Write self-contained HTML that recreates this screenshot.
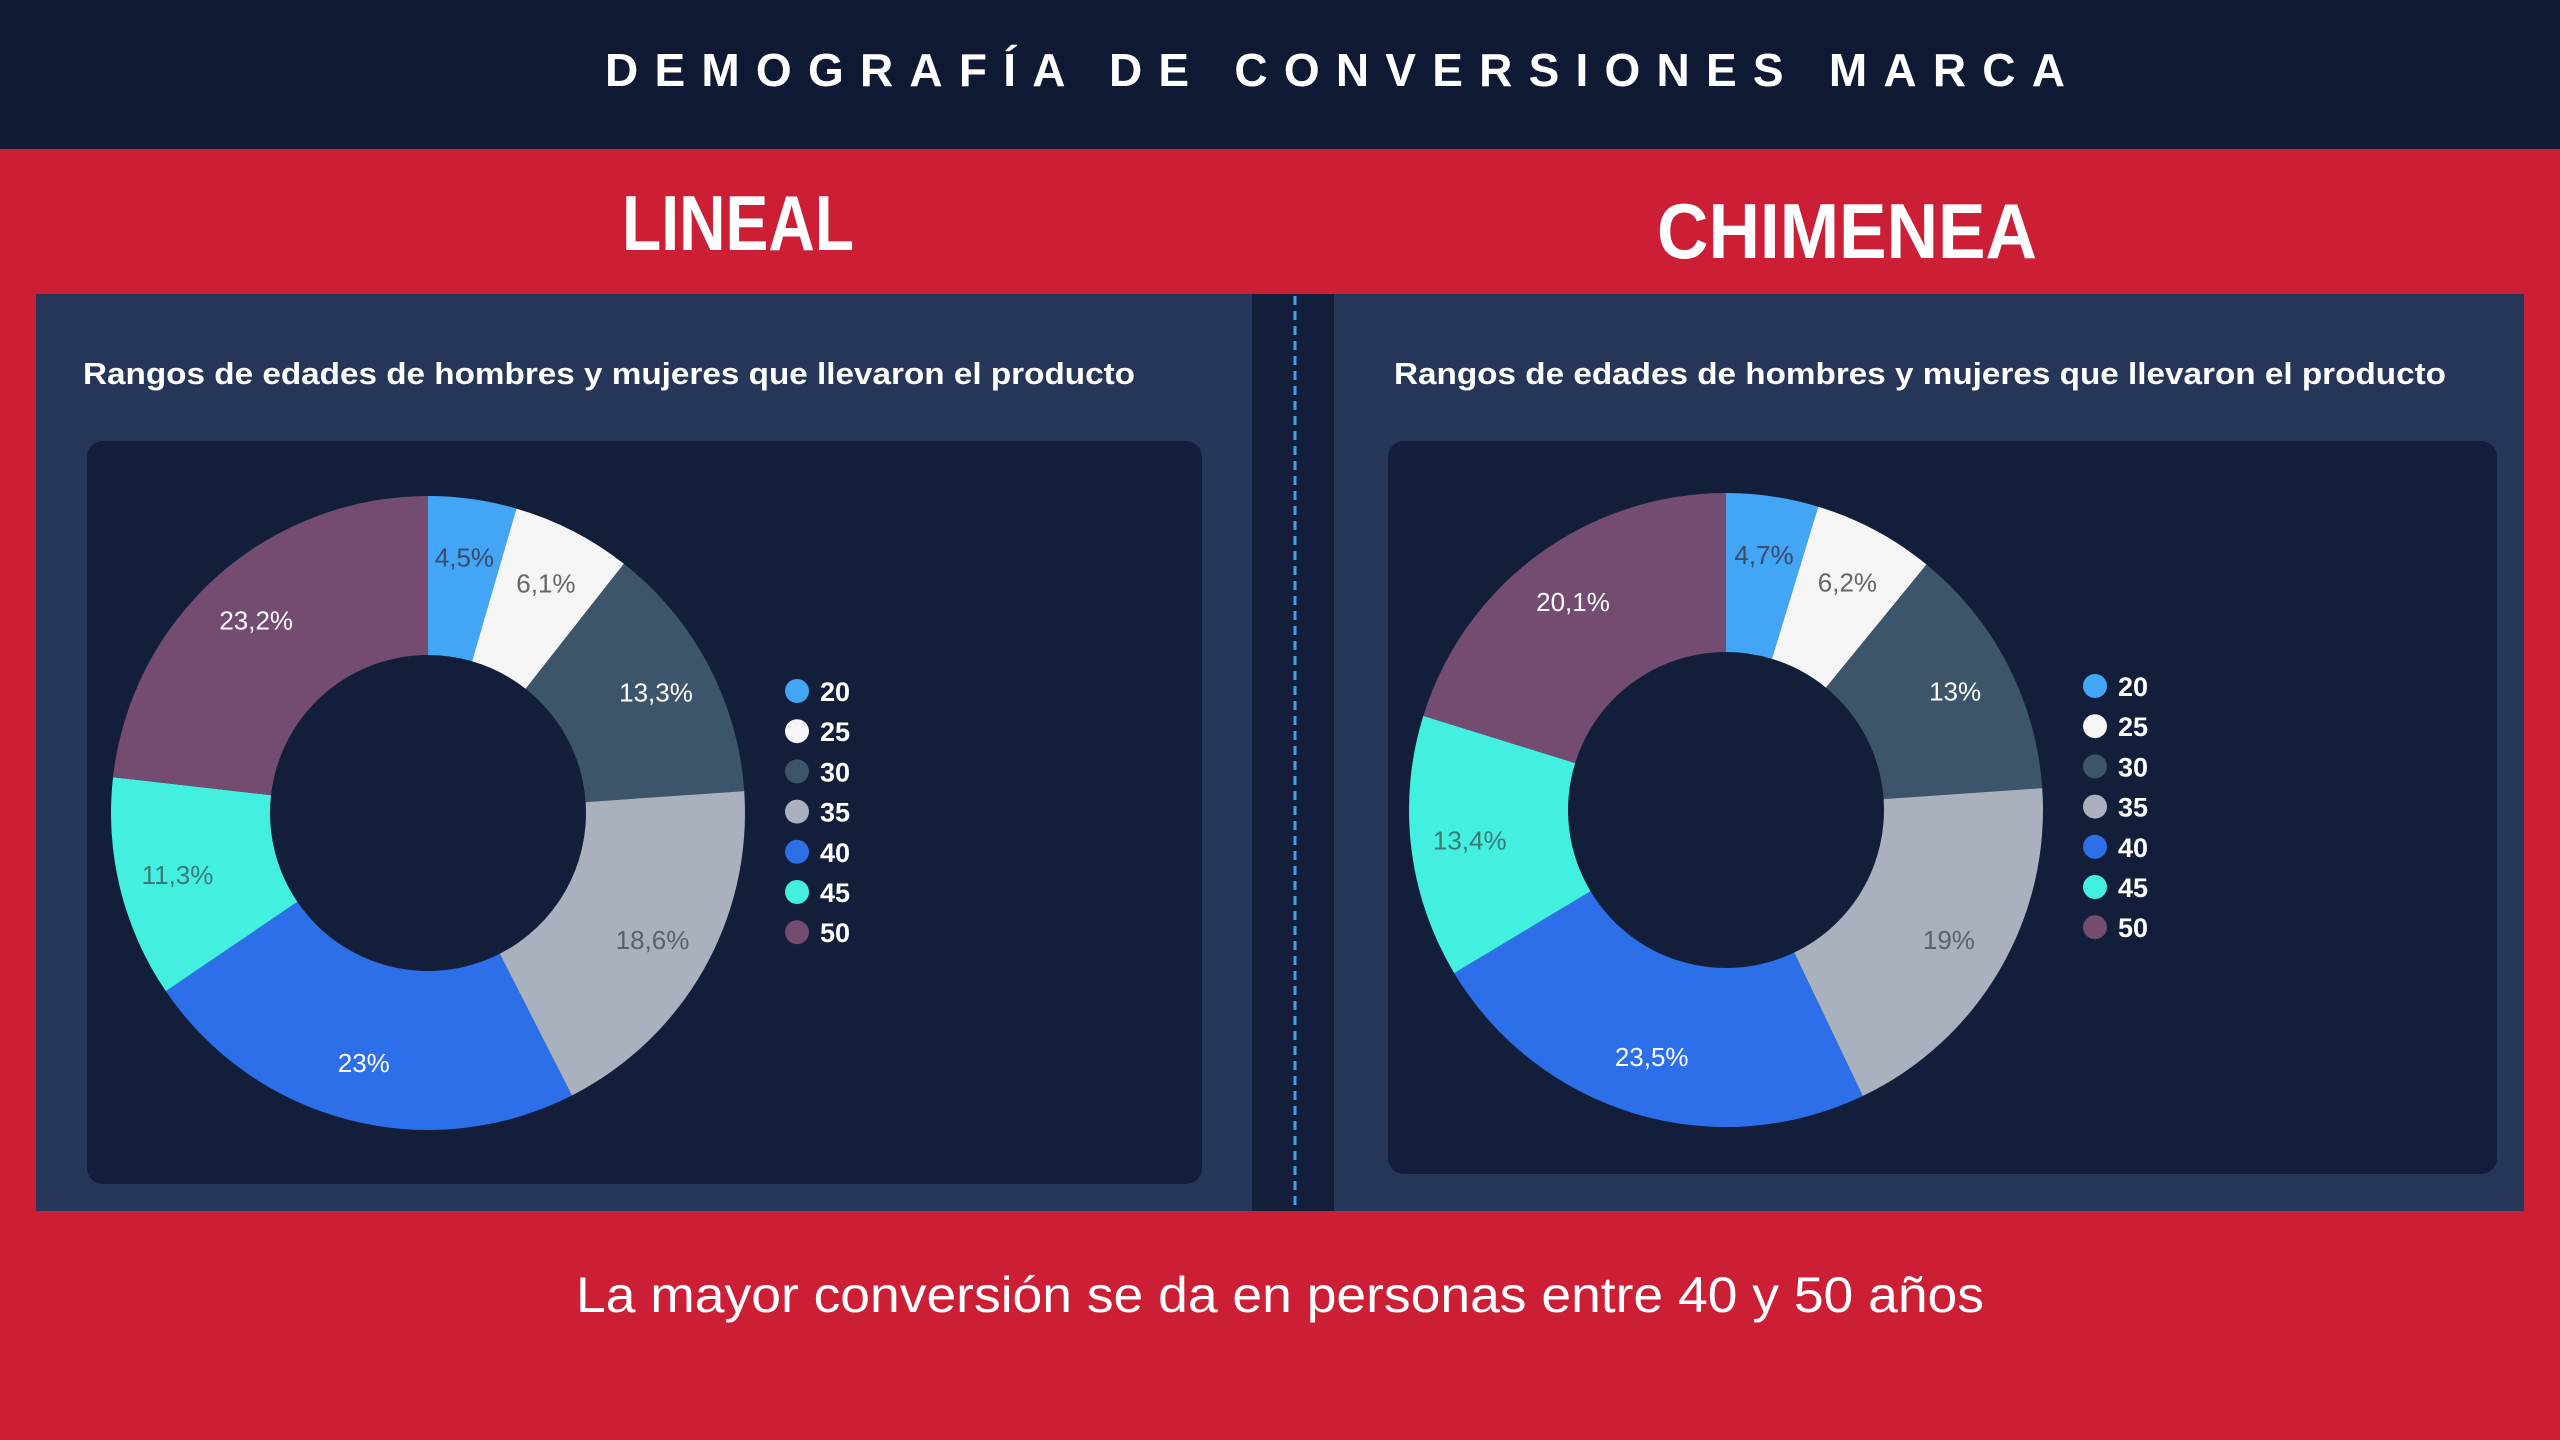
<!DOCTYPE html>
<html><head><meta charset="utf-8"><style>
html,body{margin:0;padding:0;width:2560px;height:1440px;overflow:hidden;background:#cc1f36}
svg{display:block}
</style></head><body>
<svg id="s" width="2560" height="1440" viewBox="0 0 2560 1440" xmlns="http://www.w3.org/2000/svg" font-family="Liberation Sans, sans-serif">
<rect x="0" y="0" width="2560" height="1440" fill="#cc1f36"/>
<rect x="0" y="0" width="2560" height="149" fill="#0f1934"/>
<text x="1335" y="86" fill="#ffffff" font-size="46" font-weight="bold" text-anchor="middle" textLength="1460" lengthAdjust="spacing">DEMOGRAFÍA DE CONVERSIONES MARCA</text>
<text x="738" y="250" fill="#ffffff" font-size="78" font-weight="bold" text-anchor="middle" textLength="232" lengthAdjust="spacingAndGlyphs">LINEAL</text>
<text x="1847" y="258" fill="#ffffff" font-size="78" font-weight="bold" text-anchor="middle" textLength="380" lengthAdjust="spacingAndGlyphs">CHIMENEA</text>
<rect x="36" y="294" width="2488" height="917" fill="#131f3a"/>
<rect x="36" y="294" width="1216" height="917" fill="#253659"/>
<rect x="1334" y="294" width="1190" height="917" fill="#253659"/>
<line x1="1295" y1="296" x2="1295" y2="1211" stroke="#3fa0f0" stroke-width="3" stroke-dasharray="9,6"/>
<text x="83" y="384" fill="#ffffff" font-size="31" font-weight="bold" textLength="1052" lengthAdjust="spacingAndGlyphs">Rangos de edades de hombres y mujeres que llevaron el producto</text>
<text x="1394" y="384" fill="#ffffff" font-size="31" font-weight="bold" textLength="1052" lengthAdjust="spacingAndGlyphs">Rangos de edades de hombres y mujeres que llevaron el producto</text>
<rect x="87" y="441" width="1115" height="743" rx="16" fill="#131f3a"/>
<rect x="1388" y="441" width="1109" height="733" rx="16" fill="#131f3a"/>
<g id="d1"></g><g id="d2"></g>
<text x="1280" y="1312" fill="#ffffff" font-size="50" text-anchor="middle" textLength="1408" lengthAdjust="spacingAndGlyphs">La mayor conversión se da en personas   entre 40  y 50  años</text>
</svg>
<script>
var cols=["#42a5f5","#f5f5f5","#3d556b","#a9b1bf","#2c6fe8","#43f0e0","#744c72"];
var lc=["#3b4a66","#666666","#ffffff","#5a6070","#ffffff","#3b7a78","#ffffff"];
var names=["20","25","30","35","40","45","50"];
function donut(id,cx,cy,R,r,vals,labs,lx,ly){
  var g=document.getElementById(id),h="",a=0,tot=vals.reduce(function(p,c){return p+c},0);
  for(var i=0;i<vals.length;i++){
    var a0=a/tot*2*Math.PI,a1=(a+vals[i])/tot*2*Math.PI;a+=vals[i];
    var big=(a1-a0)>Math.PI?1:0;
    function P(rr,t){return (cx+rr*Math.sin(t)).toFixed(2)+","+(cy-rr*Math.cos(t)).toFixed(2)}
    h+='<path d="M'+P(R,a0)+' A'+R+','+R+' 0 '+big+' 1 '+P(R,a1)+' L'+P(r,a1)+' A'+r+','+r+' 0 '+big+' 0 '+P(r,a0)+' Z" fill="'+cols[i]+'"/>';
    var am=(a0+a1)/2,rm=258;
    h+='<text x="'+(cx+rm*Math.sin(am)).toFixed(1)+'" y="'+(cy-rm*Math.cos(am)+9).toFixed(1)+'" fill="'+lc[i]+'" font-size="26" text-anchor="middle">'+labs[i]+'</text>';
    h+='<circle cx="'+lx+'" cy="'+(ly+i*40.2)+'" r="12" fill="'+cols[i]+'"/>';
    h+='<text x="'+(lx+23)+'" y="'+(ly+i*40.2+10)+'" fill="#ffffff" font-size="27" font-weight="bold">'+names[i]+'</text>';
  }
  g.innerHTML=h;
}
donut("d1",428,813,317,158,[4.5,6.1,13.3,18.6,23,11.3,23.2],["4,5%","6,1%","13,3%","18,6%","23%","11,3%","23,2%"],797,691);
donut("d2",1726,810,317,158,[4.7,6.2,13,19,23.5,13.4,20.2],["4,7%","6,2%","13%","19%","23,5%","13,4%","20,1%"],2095,686);
</script>
</body></html>
